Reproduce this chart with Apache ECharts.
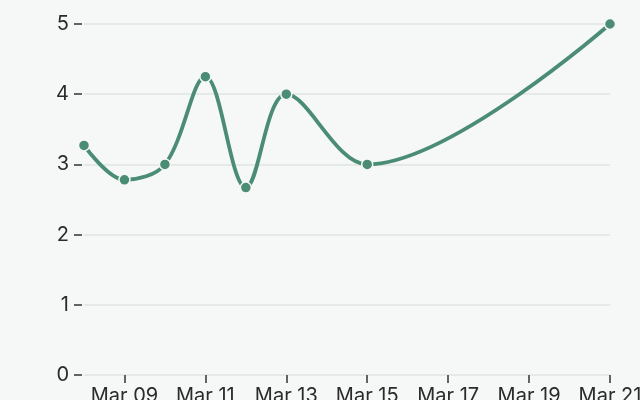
<!DOCTYPE html>
<html><head><meta charset="utf-8">
<script src="https://cdn.jsdelivr.net/npm/echarts@6/dist/echarts.min.js"></script>
<style>html,body{margin:0;padding:0;background:#f6f8f7}#c{width:640px;height:400px}</style>
</head><body><div id="c"></div>
<script>
const dates = ['2024-03-08','2024-03-09','2024-03-10','2024-03-11','2024-03-12','2024-03-13','2024-03-15','2024-03-21'];
const values = [3.27, 2.78, 3.0, 4.25, 2.67, 4.0, 3.0, 5.0];
const xTickDates = ['2024-03-09','2024-03-11','2024-03-13','2024-03-15','2024-03-17','2024-03-19','2024-03-21'];
const yTicks = [0,1,2,3,4,5];

function ts(s){const p=s.split('-').map(Number);return new Date(p[0],p[1]-1,p[2]).getTime();}
const months=['Jan','Feb','Mar','Apr','May','Jun','Jul','Aug','Sep','Oct','Nov','Dec'];
const chart = echarts.init(document.getElementById('c'), null, {renderer:'canvas'});
const font = 'Inter';
const fs = 20;
chart.setOption({
  backgroundColor:'#f6f8f7',
  animation:false,
  grid:{left:84,right:30,top:24,bottom:25,containLabel:false,outerBoundsMode:'none'},
  xAxis:{
    type:'value',
    min: ts(dates[0]), max: ts(dates[dates.length-1]),
    axisLine:{show:false},
    splitLine:{show:false},
    axisTick:{show:true,length:8,lineStyle:{color:'#333',width:1.5},customValues: xTickDates.map(ts)},
    axisLabel:{customValues: xTickDates.map(ts), color:'#2b2b2b', fontFamily:font, fontSize:fs, margin:11,
      formatter:v=>{const d=new Date(v);return months[d.getMonth()]+' '+String(d.getDate()).padStart(2,'0');}}
  },
  yAxis:{
    type:'value', min:yTicks[0], max:yTicks[yTicks.length-1], interval:1, offset:2,
    axisLine:{show:false},
    axisTick:{show:true,length:8,lineStyle:{color:'#333',width:1.5}},
    axisLabel:{color:'#2b2b2b',fontFamily:font,fontSize:fs,margin:13},
    splitLine:{show:true,lineStyle:{color:'#dfe5e2',width:1.5}}
  },
  series:[{
    type:'line',
    data: dates.map((d,i)=>[ts(d),values[i]]),
    smooth:0.35,
    smoothMonotone:null,
    symbol:'circle', symbolSize:11,
    lineStyle:{color:'#4a8c74',width:3.8},
    itemStyle:{color:'#4a8c74',borderColor:'#f6f8f7',borderWidth:1.5}
  }]
});
</script></body></html>
